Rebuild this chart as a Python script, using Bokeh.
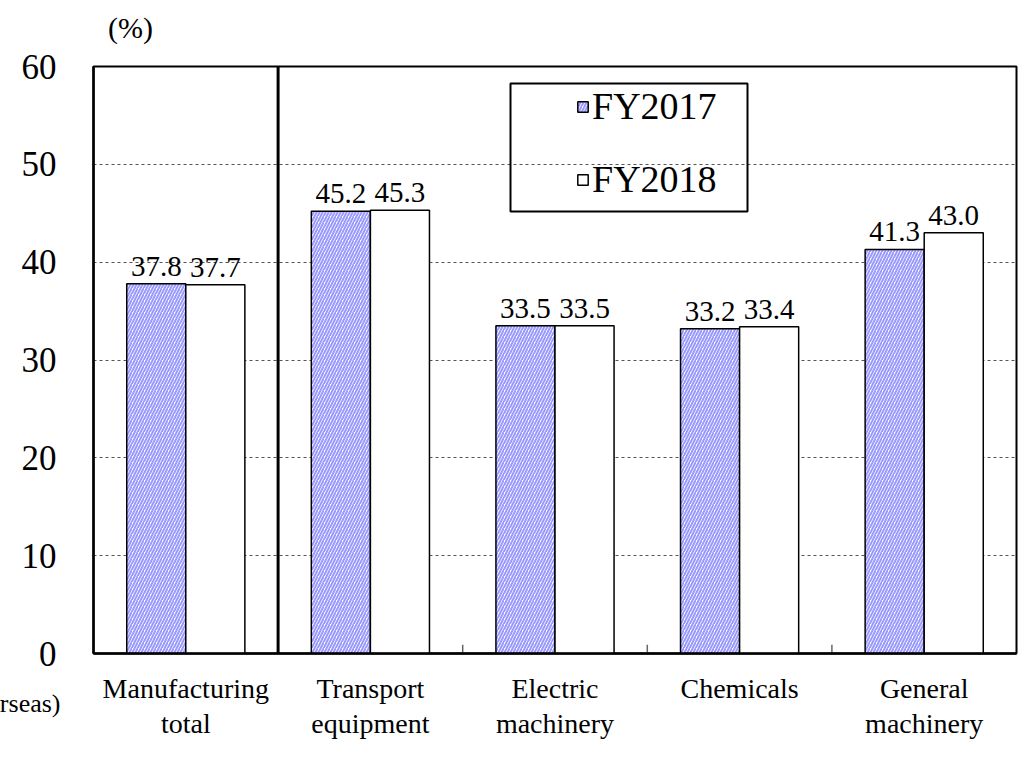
from bokeh.plotting import figure
from bokeh.models import (ColumnDataSource, Range1d, Legend, LegendItem, Span,
                          BoxAnnotation, Label, SingleIntervalTicker, FixedTicker,
                          LabelSet, LinearAxis)
from bokeh.embed import file_html
from bokeh.resources import INLINE

# Industries and their shares (%) for each fiscal year
categories = ["Manufacturing total", "Transport equipment", "Electric machinery",
              "Chemicals", "General machinery"]
label_line1 = ["Manufacturing", "Transport", "Electric", "Chemicals", "General"]
label_line2 = ["total", "equipment", "machinery", "", "machinery"]
fy2017 = [37.8, 45.2, 33.5, 33.2, 41.3]
fy2018 = [37.7, 45.3, 33.5, 33.4, 43.0]
series_names = ["FY2017", "FY2018"]

FONT = "Liberation Serif"
bw = 0.32  # bar width in category units

pos = list(range(1, len(categories) + 1))
src = ColumnDataSource(dict(
    x17=[i - bw / 2 for i in pos],
    x18=[i + bw / 2 for i in pos],
    v17=fy2017,
    v18=fy2018,
    t17=[f"{v:.1f}" for v in fy2017],
    t18=[f"{v:.1f}" for v in fy2018],
))

p = figure(width=1018, height=761, x_range=Range1d(0.5, len(categories) + 0.5),
           y_range=Range1d(0, 60), output_backend="svg", toolbar_location=None,
           min_border_left=93, min_border_right=2, min_border_top=66,
           min_border_bottom=108)

p.background_fill_color = "white"
p.border_fill_color = "white"
p.outline_line_color = "black"
p.outline_line_width = 2

# grid
p.xgrid.grid_line_color = None
p.ygrid.grid_line_color = "#555555"
p.ygrid.grid_line_dash = "3 3"
p.ygrid.grid_line_width = 1

# y axis
p.yaxis.ticker = SingleIntervalTicker(interval=10)
p.yaxis.major_tick_line_color = None
p.yaxis.minor_tick_line_color = None
p.yaxis.axis_line_color = "black"
p.yaxis.axis_line_width = 2.5
p.yaxis.major_label_text_font = FONT
p.yaxis.major_label_text_font_size = "35px"
p.yaxis.major_label_text_color = "black"
p.yaxis.major_label_standoff = 31

# x axis: first line of each category name
xa = p.xaxis[0]
xa.ticker = FixedTicker(ticks=pos)
xa.major_tick_line_color = None
xa.major_tick_out = 0
xa.major_tick_in = 0
xa.minor_tick_line_color = None
xa.axis_line_color = "black"
xa.axis_line_width = 2.5
xa.major_label_text_font = FONT
xa.major_label_text_font_size = "28px"
xa.major_label_text_color = "black"
xa.major_label_standoff = 19
xa.major_label_overrides = dict(zip(pos, label_line1))

# second line of each category name
xa2 = LinearAxis(ticker=FixedTicker(ticks=pos), axis_line_color=None,
                 major_tick_line_color=None, major_tick_out=0, major_tick_in=0,
                 minor_tick_line_color=None,
                 major_label_text_font=FONT, major_label_text_font_size="28px",
                 major_label_text_color="black", major_label_standoff=1,
                 major_label_overrides=dict(zip(pos, label_line2)))
p.add_layout(xa2, "below")

r17 = p.vbar(x="x17", top="v17", width=bw, source=src,
             fill_color="white", hatch_pattern="/", hatch_color="#9999ff",
             hatch_scale=6, hatch_weight=2.0, line_color="black", line_width=1.5)
r18 = p.vbar(x="x18", top="v18", width=bw, source=src,
             fill_color="white", line_color="black", line_width=1.5)

# value labels
for xcol, col, txt in (("x17", "v17", "t17"), ("x18", "v18", "t18")):
    p.add_layout(LabelSet(x=xcol, y=col, text=txt, source=src,
                          text_align="center", text_baseline="bottom",
                          y_offset=8, text_font=FONT, text_font_size="29px",
                          text_color="black"))

# divider between the total and the industries
p.add_layout(Span(location=1.5, dimension="height", line_color="black", line_width=3))

# small ticks at the remaining category boundaries
bounds = [i + 0.5 for i in pos[1:-1]]
p.segment(x0=bounds, y0=[0] * len(bounds), x1=bounds, y1=[0.9] * len(bounds),
          line_color="#666666", line_width=1.5)

# legend
legend = Legend(items=[LegendItem(label=series_names[0], renderers=[r17]),
                       LegendItem(label=series_names[1], renderers=[r18])],
                location=(483, 452), border_line_color=None,
                background_fill_alpha=0, label_text_font=FONT,
                label_text_color="black",
                label_text_font_size="38px", glyph_width=13, glyph_height=13,
                label_standoff=3, spacing=29, padding=10)
p.add_layout(legend, "center")
p.add_layout(BoxAnnotation(left=417, right=654, bottom=442, top=570,
                           left_units="screen", right_units="screen",
                           bottom_units="screen", top_units="screen",
                           fill_alpha=0, line_color="black", line_alpha=1,
                           line_width=2))

# unit label and lower-left caption, placed in canvas pixels
p.add_layout(Label(x=130, y=27, x_units="canvas", y_units="canvas", text="(%)",
                   text_font=FONT, text_font_size="30px", text_align="center",
                   text_baseline="middle", text_color="black"), "above")
p.add_layout(Label(x=60, y=703, x_units="canvas", y_units="canvas", text="(Overseas)",
                   text_font=FONT, text_font_size="26px", text_align="right",
                   text_baseline="middle", text_color="black"), "above")

open("out.html", "w").write(file_html(p, INLINE))
